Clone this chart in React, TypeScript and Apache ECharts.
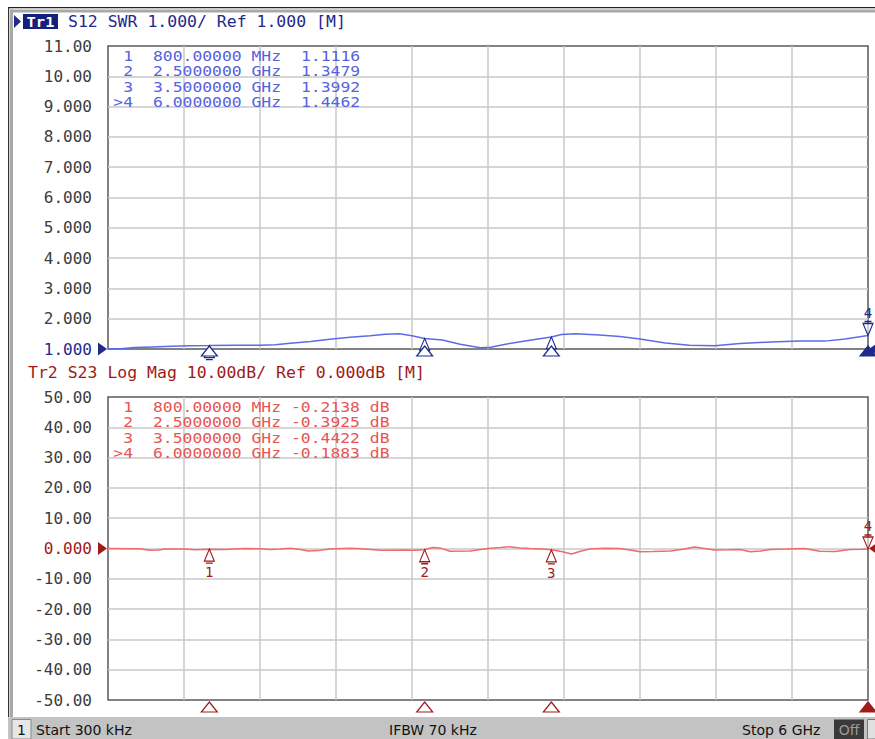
import React, { useEffect, useRef } from "react";
import * as echarts from "echarts";

// ---------- data ----------
const swrFreqGHz = [0.0003, 0.1, 0.21, 0.35, 0.5, 0.65, 0.8, 1.0, 1.2, 1.32, 1.44, 1.6, 1.75, 1.91, 2.07, 2.19, 2.3, 2.4, 2.5, 2.64, 2.78, 2.94, 3.02, 3.17, 3.33, 3.5, 3.58, 3.69, 3.88, 4.04, 4.2, 4.4, 4.59, 4.79, 4.99, 5.23, 5.46, 5.66, 5.82, 6.0];
const swrValues = [1.01, 1.01, 1.05, 1.07, 1.09, 1.11, 1.1116, 1.12, 1.12, 1.14, 1.19, 1.25, 1.32, 1.39, 1.44, 1.49, 1.5, 1.44, 1.3479, 1.3, 1.16, 1.04, 1.06, 1.18, 1.29, 1.3992, 1.48, 1.5, 1.46, 1.41, 1.33, 1.2, 1.12, 1.11, 1.18, 1.23, 1.26, 1.26, 1.33, 1.4462];

const s23FreqGHz = [0.0003, 0.17, 0.25, 0.33, 0.4, 0.45, 0.6, 0.69, 0.8, 0.92, 1.0, 1.08, 1.2, 1.28, 1.36, 1.44, 1.52, 1.58, 1.66, 1.75, 1.91, 2.0, 2.15, 2.25, 2.34, 2.42, 2.5, 2.56, 2.62, 2.7, 2.86, 2.94, 3.02, 3.1, 3.17, 3.25, 3.33, 3.42, 3.5, 3.58, 3.66, 3.73, 3.8, 3.92, 4.04, 4.12, 4.2, 4.3, 4.44, 4.55, 4.63, 4.71, 4.79, 4.9, 4.99, 5.07, 5.15, 5.23, 5.35, 5.5, 5.62, 5.74, 5.86, 5.95, 6.0];
const s23ValuesDb = [0, -0.05, -0.1, -0.6, -0.5, -0.15, -0.2, -0.4, -0.2138, -0.3, -0.15, 0, -0.1, -0.35, -0.2, 0.05, -0.3, -0.8, -0.7, -0.2, 0.05, -0.1, -0.6, -0.55, -0.5, -0.6, -0.3925, 0.35, 0.2, -0.9, -0.8, -0.3, 0.05, 0.3, 0.6, 0.2, 0, -0.2, -0.4422, -1.0, -1.8, -0.9, -0.2, 0.1, 0, -0.5, -1.1, -1.0, -0.8, -0.2, 0.5, 0, -0.5, -0.4, -0.3, -1.1, -0.8, -0.3, -0.2, 0, -0.9, -1.0, -0.3, -0.25, -0.1883];

const markerIds = ["1", "2", "3", "4"];
const markerFreqGHz = [0.8, 2.5, 3.5, 6.0];
const markerSwr = [1.1116, 1.3479, 1.3992, 1.4462];
const markerS23Db = [-0.2138, -0.3925, -0.4422, -0.1883];
const activeMarker = 3;

const freqAxis = { min: 0, max: 6, step: 0.6 };
const swrAxis = { min: 1, max: 11, step: 1, ref: 1 };
const s23Axis = { min: -50, max: 50, step: 10, ref: 0 };

const trace1Title = "S12 SWR 1.000/ Ref 1.000 [M]";
const trace2Title = "Tr2 S23 Log Mag 10.00dB/ Ref 0.000dB [M]";
const statusTexts = ["Start 300 kHz", "IFBW 70 kHz", "Stop 6 GHz"];

// ---------- styles ----------
const NAVY = "#1f2a8c";
const TRACE_BLUE = "#5d6be6";
const TABLE_BLUE = "#5563e0";
const DARKRED = "#a01a1a";
const TRACE_RED = "#f06a6a";
const TABLE_RED = "#e85555";
const GRID = "#c9c9c9";
const FRAME = "#5a5a5a";
const MONO = "DejaVu Sans Mono";

const UP_MARK = "path://M5,0 L10,12 L0,12 Z M1.5,14 L8.5,14";
const DOWN_MARK = "path://M1.5,0 L8.5,0 M0,2 L10,2 L5,14 Z";
const STIM = "path://M8,0 L16,10 L0,10 Z";
const REF_RIGHT = "path://M0,0 L9,6.5 L0,13 Z";
const REF_LEFT = "path://M9,0 L0,6.5 L9,13 Z";

function fmtFreq(f: number) {
  return f < 1 ? (f * 1000).toFixed(5) + " MHz" : f.toFixed(7) + " GHz";
}

function markerPoints(vals: number[], color: string, yMin: number, ref: number, stimOffset: number, showNums: boolean) {
  const pts: any[] = [];
  markerFreqGHz.forEach((f, i) => {
    const edge = i === activeMarker && f >= freqAxis.max;
    pts.push({
      coord: [f, vals[i]],
      symbol: edge ? DOWN_MARK : UP_MARK,
      symbolSize: [10, 14],
      symbolOffset: [0, edge ? -7 : 7],
      itemStyle: { color: "rgba(255,255,255,0.6)", borderColor: color, borderWidth: 1.2 },
      label: {
        show: showNums || edge,
        position: edge ? "top" : "bottom",
        distance: 1,
        formatter: markerIds[i],
        color,
        fontFamily: MONO,
        fontSize: 14,
      },
    });
  });
  markerFreqGHz.forEach((f, i) => {
    const active = i === activeMarker;
    pts.push({
      coord: [f, yMin],
      symbol: STIM,
      symbolSize: [16, 10],
      symbolOffset: [0, stimOffset],
      itemStyle: { color: active ? color : "#fff", borderColor: color, borderWidth: 1.2 },
      label: { show: false },
    });
  });
  pts.push({
    coord: [freqAxis.min, ref],
    symbol: REF_RIGHT,
    symbolSize: [9, 13],
    symbolOffset: [-5.5, 0],
    itemStyle: { color, borderWidth: 0 },
    label: { show: false },
  });
  pts.push({
    coord: [freqAxis.max, ref],
    symbol: REF_LEFT,
    symbolSize: [9, 13],
    symbolOffset: [5.5, 0],
    itemStyle: { color, borderWidth: 0 },
    label: { show: false },
  });
  return pts;
}

function txt(text: string, x: number, y: number, fill: string, font: string, opts: any = {}) {
  return {
    type: "text",
    x,
    y,
    z: 100,
    scaleX: opts.scaleX ?? 1,
    style: { text, fill, font, align: opts.align ?? "left", verticalAlign: "middle" },
  };
}

function buildOption() {
  const split = { show: true, showMinLine: false, showMaxLine: false, lineStyle: { color: GRID, width: 1.5 } };
  const gridBase = { left: 108, width: 760, height: 303, show: true, borderColor: FRAME, borderWidth: 1.5, backgroundColor: "#fff" };

  const tableFont = `14px ${MONO}`;
  const tableScale = 1.17;
  const graphic: any[] = [];

  // outer frame
  graphic.push({ type: "rect", z: 90, shape: { x: 8, y: 7, width: 867, height: 1.2 }, style: { fill: "#222" } });
  graphic.push({ type: "rect", z: 90, shape: { x: 10, y: 9.5, width: 865, height: 3 }, style: { fill: "#a8a8a8" } });
  graphic.push({ type: "rect", z: 90, shape: { x: 8, y: 7, width: 1.2, height: 710 }, style: { fill: "#333" } });
  graphic.push({ type: "rect", z: 90, shape: { x: 10, y: 9.5, width: 3, height: 708 }, style: { fill: "#a8a8a8" } });

  // title 1
  graphic.push({ type: "polygon", z: 100, shape: { points: [[14, 15], [14, 28], [21, 21.5]] }, style: { fill: NAVY } });
  graphic.push({ type: "rect", z: 100, shape: { x: 23, y: 14, width: 35, height: 15 }, style: { fill: "#14207a" } });
  graphic.push(txt("Tr1", 40.5, 21.5, "#fff", `bold 14px ${MONO}`, { align: "center", scaleX: 1.1 }));
  graphic.push(txt(trace1Title, 68, 21.5, NAVY, `15px ${MONO}`, { scaleX: 1.1 }));
  // title 2
  graphic.push(txt(trace2Title, 28, 373, DARKRED, `15px ${MONO}`, { scaleX: 1.1 }));

  // marker tables
  markerFreqGHz.forEach((f, i) => {
    const idTxt = (i === activeMarker ? ">" : "") + markerIds[i];
    const yTop = 56 + 15.5 * i;
    const yBot = 407 + 15.5 * i;
    graphic.push(txt(idTxt, 133, yTop, TABLE_BLUE, tableFont, { align: "right", scaleX: tableScale }));
    graphic.push(txt(fmtFreq(f), 153, yTop, TABLE_BLUE, tableFont, { scaleX: tableScale }));
    graphic.push(txt(markerSwr[i].toFixed(4), 301, yTop, TABLE_BLUE, tableFont, { scaleX: tableScale }));
    graphic.push(txt(idTxt, 133, yBot, TABLE_RED, tableFont, { align: "right", scaleX: tableScale }));
    graphic.push(txt(fmtFreq(f), 153, yBot, TABLE_RED, tableFont, { scaleX: tableScale }));
    graphic.push(txt(markerS23Db[i].toFixed(4) + " dB", 291, yBot, TABLE_RED, tableFont, { scaleX: tableScale }));
  });

  // status bar
  const sFont = "14px DejaVu Sans";
  graphic.push({ type: "rect", z: 95, shape: { x: 8, y: 717, width: 867, height: 22 }, style: { fill: "#c3c3c3" } });
  graphic.push({ type: "rect", z: 96, shape: { x: 12, y: 719.5, width: 19, height: 19.5 }, style: { fill: "#e6e6e6", stroke: "#8a8a8a", lineWidth: 1 } });
  graphic.push(txt("1", 21.5, 729.5, "#111", sFont, { align: "center" }));
  graphic.push(txt(statusTexts[0], 36, 729.5, "#111", sFont));
  graphic.push(txt(statusTexts[1], 389, 729.5, "#111", sFont));
  graphic.push(txt(statusTexts[2], 742, 729.5, "#111", sFont));
  graphic.push({ type: "rect", z: 96, shape: { x: 834, y: 719.5, width: 30, height: 19.5 }, style: { fill: "#3a3a3a" } });
  graphic.push(txt("Off", 849, 729.5, "#9a9a9a", sFont, { align: "center" }));
  graphic.push({ type: "rect", z: 96, shape: { x: 867.5, y: 719.5, width: 10, height: 19.5 }, style: { fill: "#e0e0e0", stroke: "#777", lineWidth: 1 } });

  const xAxes = [0, 1].map((g) => ({
    type: "value",
    gridIndex: g,
    min: freqAxis.min,
    max: freqAxis.max,
    interval: freqAxis.step,
    axisLine: { show: false },
    axisTick: { show: false },
    axisLabel: { show: false },
    splitLine: split,
  }));

  const yAxes = [
    {
      type: "value",
      gridIndex: 0,
      min: swrAxis.min,
      max: swrAxis.max,
      interval: swrAxis.step,
      axisLine: { show: false },
      axisTick: { show: false },
      axisLabel: {
        margin: 16,
        fontFamily: MONO,
        fontSize: 16,
        color: (v: any) => (Number(v) === swrAxis.ref ? NAVY : "#3c3c3c"),
        formatter: (v: number) => (v >= 10 ? v.toFixed(2) : v.toFixed(3)),
      },
      splitLine: split,
    },
    {
      type: "value",
      gridIndex: 1,
      min: s23Axis.min,
      max: s23Axis.max,
      interval: s23Axis.step,
      axisLine: { show: false },
      axisTick: { show: false },
      axisLabel: {
        margin: 16,
        fontFamily: MONO,
        fontSize: 16,
        color: (v: any) => (Number(v) === s23Axis.ref ? DARKRED : "#3c3c3c"),
        formatter: (v: number) => (v === 0 ? "0.000" : v.toFixed(2)),
      },
      splitLine: split,
    },
  ];

  return {
    animation: false,
    backgroundColor: "#fff",
    grid: [
      { ...gridBase, top: 46 },
      { ...gridBase, top: 397 },
    ],
    xAxis: xAxes,
    yAxis: yAxes,
    series: [
      {
        type: "line",
        xAxisIndex: 0,
        yAxisIndex: 0,
        data: swrFreqGHz.map((f, i) => [f, swrValues[i]]),
        symbol: "none",
        showSymbol: false,
        lineStyle: { color: TRACE_BLUE, width: 1.5 },
        itemStyle: { color: TRACE_BLUE },
        z: 3,
        markPoint: { label: { show: false }, data: markerPoints(markerSwr, NAVY, swrAxis.min, swrAxis.ref, 2, false) },
      },
      {
        type: "line",
        xAxisIndex: 1,
        yAxisIndex: 1,
        data: s23FreqGHz.map((f, i) => [f, s23ValuesDb[i]]),
        symbol: "none",
        showSymbol: false,
        lineStyle: { color: TRACE_RED, width: 1.5 },
        itemStyle: { color: TRACE_RED },
        z: 3,
        markPoint: { label: { show: false }, data: markerPoints(markerS23Db, DARKRED, s23Axis.min, s23Axis.ref, 7, true) },
      },
    ],
    graphic,
  };
}

export default function App() {
  const ref = useRef<HTMLDivElement>(null);
  useEffect(() => {
    const chart = echarts.init(ref.current!, null, { renderer: "svg" });
    chart.setOption(buildOption() as any);
    return () => chart.dispose();
  }, []);
  return <div ref={ref} style={{ position: "absolute", left: 0, top: 0, width: 875, height: 739 }} />;
}
